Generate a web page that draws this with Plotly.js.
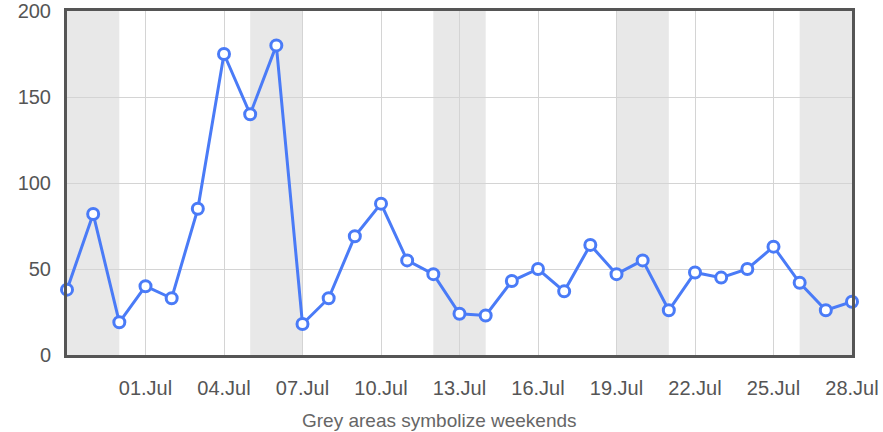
<!DOCTYPE html>
<html>
<head>
<meta charset="utf-8">
<script src="https://cdn.plot.ly/plotly-3.0.1.min.js"></script>
<style>html,body{margin:0;padding:0;background:#fff;}#chart{width:883px;height:432px;}</style>
</head>
<body>
<div id="chart"></div>
<script>
const dates = [
  "2014-06-28","2014-06-29","2014-06-30","2014-07-01","2014-07-02","2014-07-03","2014-07-04",
  "2014-07-05","2014-07-06","2014-07-07","2014-07-08","2014-07-09","2014-07-10","2014-07-11",
  "2014-07-12","2014-07-13","2014-07-14","2014-07-15","2014-07-16","2014-07-17","2014-07-18",
  "2014-07-19","2014-07-20","2014-07-21","2014-07-22","2014-07-23","2014-07-24","2014-07-25",
  "2014-07-26","2014-07-27","2014-07-28"
];
const values = [
  38, 82, 19, 40, 33, 85, 175,
  140, 180, 18, 33, 69, 88, 55,
  47, 24, 23, 43, 50, 37, 64,
  47, 55, 26, 48, 45, 50, 63,
  42, 26, 31
];
const tickDates = ["2014-07-01","2014-07-04","2014-07-07","2014-07-10","2014-07-13",
                   "2014-07-16","2014-07-19","2014-07-22","2014-07-25","2014-07-28"];
const tickLabels = ["01.Jul","04.Jul","07.Jul","10.Jul","13.Jul","16.Jul","19.Jul","22.Jul","25.Jul","28.Jul"];
const weekendStarts = ["2014-06-28","2014-07-05","2014-07-12","2014-07-19","2014-07-26"];
const weekendEnds   = ["2014-06-30","2014-07-07","2014-07-14","2014-07-21","2014-07-28"];
const yTicks = [0, 50, 100, 150, 200];
const caption = "Grey areas symbolize weekends";

const shapes = weekendStarts.map((s, i) => ({
  type: "rect", xref: "x", yref: "paper", x0: s, x1: weekendEnds[i], y0: 0, y1: 1,
  fillcolor: "#e8e8e8", line: {width: 0}, layer: "below"
}));

const trace = {
  x: dates, y: values, type: "scatter", mode: "lines+markers",
  line: {color: "#4a7bf7", width: 3},
  marker: {size: 11, color: "#ffffff", line: {color: "#4a7bf7", width: 3}},
  cliponaxis: false, hoverinfo: "x+y"
};

const layout = {
  width: 883, height: 432,
  margin: {l: 67, r: 31, t: 11, b: 77},
  paper_bgcolor: "#ffffff", plot_bgcolor: "#ffffff",
  showlegend: false,
  font: {family: "Liberation Sans, Arial, sans-serif", color: "#555555", size: 20},
  xaxis: {
    type: "date",
    range: [dates[0], dates[dates.length - 1]],
    tickvals: tickDates, ticktext: tickLabels,
    showgrid: true, gridcolor: "#d4d4d4", gridwidth: 1,
    showline: true, linecolor: "#555555", linewidth: 3, mirror: true,
    ticks: "outside", ticklen: 13, tickcolor: "rgba(0,0,0,0)",
    tickfont: {size: 20, color: "#555555"},
    zeroline: false
  },
  yaxis: {
    range: [0, 200],
    tickvals: yTicks,
    showgrid: true, gridcolor: "#d4d4d4", gridwidth: 1,
    showline: true, linecolor: "#555555", linewidth: 3, mirror: true,
    ticks: "outside", ticklen: 9, tickcolor: "rgba(0,0,0,0)",
    tickfont: {size: 20, color: "#555555"},
    zeroline: false
  },
  shapes: shapes,
  annotations: [{
    text: caption, xref: "paper", yref: "paper", x: 0.474, y: -0.19,
    xanchor: "center", yanchor: "middle", showarrow: false,
    font: {size: 19, color: "#666666"}
  }]
};

Plotly.newPlot("chart", [trace], layout, {displayModeBar: false, staticPlot: true});
</script>
</body>
</html>
